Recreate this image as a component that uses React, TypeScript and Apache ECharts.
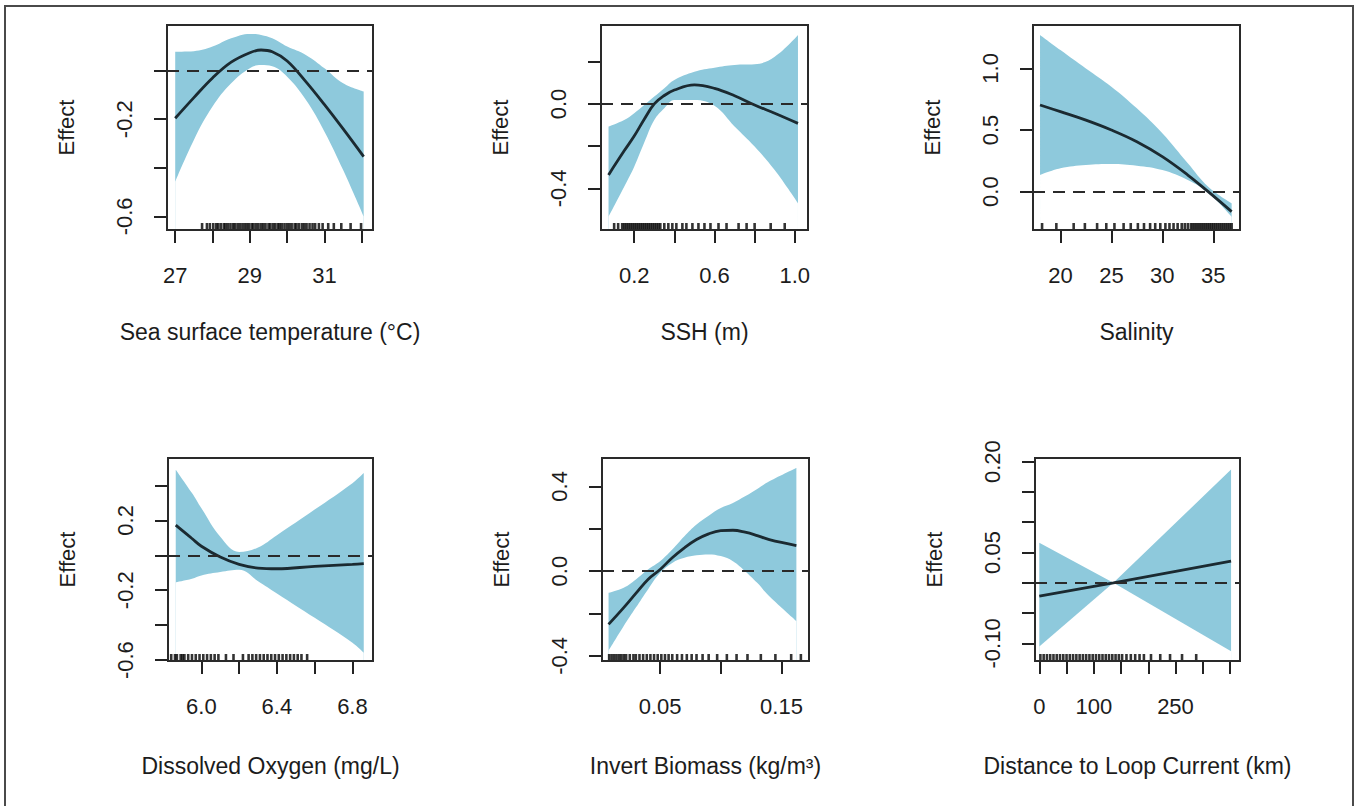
import React, { useEffect, useRef } from "react";
import * as echarts from "echarts";

// ---------- Panel 1: Sea surface temperature ----------
const sstX = [27.0, 27.5, 28.0, 28.5, 29.0, 29.3, 29.6, 30.0, 30.5, 31.0, 31.5, 32.05];
const sstFit = [-0.196, -0.111, -0.03, 0.035, 0.074, 0.085, 0.078, 0.04, -0.045, -0.14, -0.24, -0.354];
const sstUpper = [0.078, 0.08, 0.099, 0.133, 0.151, 0.147, 0.133, 0.099, 0.065, 0.01, -0.052, -0.086];
const sstLower = [-0.457, -0.285, -0.148, -0.052, 0.01, 0.023, 0.018, -0.025, -0.12, -0.251, -0.409, -0.6];
const sstRug = [27.72, 27.85, 27.93, 28.02, 28.1, 28.15, 28.22, 28.3, 28.35, 28.41, 28.48, 28.55, 28.6, 28.67, 28.73, 28.8, 28.86, 28.92, 28.98, 29.05, 29.1, 29.17, 29.23, 29.3, 29.36, 29.42, 29.5, 29.55, 29.62, 29.68, 29.75, 29.8, 29.86, 29.93, 30.0, 30.06, 30.12, 30.2, 30.25, 30.32, 30.4, 30.46, 30.52, 30.6, 30.68, 30.75, 30.85, 30.95, 31.1, 31.25, 31.45, 31.7, 31.98];
const sstXTicks = [27, 28, 29, 30, 31, 32];
const sstXLabels = [27, 29, 31];
const sstYTicks = [-0.6, -0.4, -0.2, 0.0];
const sstYLabels = [-0.6, -0.2];

// ---------- Panel 2: SSH ----------
const sshX = [0.072, 0.15, 0.2, 0.25, 0.3, 0.35, 0.4, 0.5, 0.6, 0.7, 0.8, 0.9, 1.016];
const sshFit = [-0.336, -0.222, -0.152, -0.072, 0.0, 0.04, 0.066, 0.09, 0.074, 0.039, -0.005, -0.044, -0.092];
const sshUpper = [-0.107, -0.076, -0.044, -0.005, 0.035, 0.075, 0.114, 0.153, 0.172, 0.185, 0.188, 0.224, 0.327];
const sshLower = [-0.534, -0.392, -0.297, -0.183, -0.076, -0.02, 0.019, 0.019, -0.009, -0.107, -0.202, -0.313, -0.47];
const sshRug = [0.1, 0.12, 0.14, 0.15, 0.16, 0.17, 0.18, 0.19, 0.2, 0.21, 0.22, 0.23, 0.24, 0.25, 0.26, 0.27, 0.28, 0.29, 0.3, 0.31, 0.32, 0.33, 0.35, 0.37, 0.39, 0.41, 0.44, 0.46, 0.49, 0.52, 0.55, 0.58, 0.62, 0.66, 0.72, 0.76, 0.8, 0.88, 0.95];
const sshXTicks = [0.2, 0.4, 0.6, 0.8, 1.0];
const sshXLabels = [0.2, 0.6, 1.0];
const sshYTicks = [-0.4, -0.2, 0.0, 0.2];
const sshYLabels = [-0.4, 0.0];

// ---------- Panel 3: Salinity ----------
const salX = [18, 20, 22.5, 25, 27.5, 30, 32.5, 34.5, 36.8];
const salFit = [0.703, 0.649, 0.58, 0.5, 0.405, 0.284, 0.135, 0.0, -0.162];
const salUpper = [1.271, 1.149, 1.0, 0.852, 0.676, 0.474, 0.23, 0.04, -0.094];
const salLower = [0.135, 0.19, 0.217, 0.225, 0.211, 0.176, 0.095, -0.008, -0.203];
const salRug = [18.2, 19.6, 21.3, 22.4, 23.6, 24.5, 25.3, 26.2, 26.9, 27.6, 28.2, 28.8, 29.3, 29.8, 30.3, 30.7, 31.1, 31.5, 31.9, 32.2, 32.5, 32.8, 33.0, 33.2, 33.4, 33.6, 33.8, 34.0, 34.2, 34.4, 34.6, 34.8, 35.0, 35.2, 35.4, 35.6, 35.8, 36.0, 36.2, 36.4, 36.6, 36.8];
const salXTicks = [20, 25, 30, 35];
const salXLabels = [20, 25, 30, 35];
const salYTicks = [0.0, 0.5, 1.0];
const salYLabels = [0.0, 0.5, 1.0];

// ---------- Panel 4: Dissolved oxygen ----------
const doX = [5.864, 5.95, 6.0, 6.1, 6.2, 6.3, 6.4, 6.6, 6.8, 6.86];
const doFit = [0.173, 0.096, 0.052, -0.01, -0.052, -0.073, -0.077, -0.063, -0.052, -0.048];
const doUpper = [0.49, 0.356, 0.269, 0.106, 0.019, 0.045, 0.115, 0.262, 0.413, 0.471];
const doLower = [-0.154, -0.134, -0.115, -0.096, -0.083, -0.148, -0.218, -0.358, -0.5, -0.557];
const doRug = [5.84, 5.86, 5.87, 5.89, 5.9, 5.91, 5.93, 5.95, 5.97, 5.99, 6.01, 6.03, 6.05, 6.07, 6.09, 6.13, 6.17, 6.22, 6.25, 6.27, 6.29, 6.31, 6.33, 6.35, 6.37, 6.39, 6.41, 6.43, 6.45, 6.47, 6.49, 6.51, 6.53, 6.56];
const doXTicks = [6.0, 6.2, 6.4, 6.6, 6.8];
const doXLabels = [6.0, 6.4, 6.8];
const doYTicks = [-0.6, -0.4, -0.2, 0.0, 0.2, 0.4];
const doYLabels = [-0.6, -0.2, 0.2];

// ---------- Panel 5: Invert biomass ----------
const invX = [0.0075, 0.02, 0.03, 0.04, 0.05, 0.06, 0.07, 0.08, 0.09, 0.1, 0.11, 0.12, 0.13, 0.14, 0.1623];
const invFit = [-0.251, -0.172, -0.105, -0.039, 0.008, 0.063, 0.11, 0.149, 0.176, 0.191, 0.193, 0.184, 0.168, 0.149, 0.121];
const invUpper = [-0.102, -0.078, -0.039, 0.008, 0.047, 0.102, 0.165, 0.22, 0.262, 0.298, 0.322, 0.353, 0.388, 0.424, 0.487];
const invLower = [-0.376, -0.259, -0.172, -0.086, -0.008, 0.039, 0.063, 0.075, 0.079, 0.071, 0.047, 0.0, -0.055, -0.118, -0.235];
const invRug = [0.008, 0.01, 0.012, 0.014, 0.016, 0.018, 0.02, 0.022, 0.025, 0.028, 0.03, 0.033, 0.036, 0.039, 0.042, 0.045, 0.048, 0.051, 0.054, 0.057, 0.06, 0.064, 0.068, 0.072, 0.076, 0.08, 0.085, 0.09, 0.097, 0.105, 0.113, 0.122, 0.133, 0.145, 0.158, 0.166];
const invXTicks = [0.05, 0.1, 0.15];
const invXLabels = [0.05, 0.15];
const invYTicks = [-0.4, -0.2, 0.0, 0.2, 0.4];
const invYLabels = [-0.4, 0.0, 0.4];

// ---------- Panel 6: Distance to Loop Current ----------
const lcX = [0, 136, 352];
const lcFit = [-0.022, 0.0, 0.036];
const lcUpper = [0.066, 0.0, 0.187];
const lcLower = [-0.105, 0.0, -0.113];
const lcRug = [2, 8, 14, 20, 26, 32, 38, 44, 50, 56, 62, 68, 74, 80, 86, 92, 98, 104, 110, 116, 122, 128, 134, 140, 146, 152, 160, 168, 176, 184, 192, 205, 222, 240, 262, 288];
const lcXTicks = [0, 50, 100, 150, 200, 250, 300, 350];
const lcXLabels = [0, 100, 250];
const lcYTicks = [-0.1, -0.05, 0.0, 0.05, 0.1, 0.15, 0.2];
const lcYLabels = [-0.1, 0.05, 0.2];

const titles = [
  "Sea surface temperature (°C)",
  "SSH (m)",
  "Salinity",
  "Dissolved Oxygen (mg/L)",
  "Invert Biomass (kg/m³)",
  "Distance to Loop Current (km)",
];

const panels = [
  { x: sstX, fit: sstFit, upper: sstUpper, lower: sstLower, rug: sstRug, xTicks: sstXTicks, xLabels: sstXLabels, yTicks: sstYTicks, yLabels: sstYLabels, xMin: 26.78, xMax: 32.3, yMin: -0.656, yMax: 0.188, xDec: 0, yDec: 1, smooth: 0.4 },
  { x: sshX, fit: sshFit, upper: sshUpper, lower: sshLower, rug: sshRug, xTicks: sshXTicks, xLabels: sshXLabels, yTicks: sshYTicks, yLabels: sshYLabels, xMin: 0.0345, xMax: 1.066, yMin: -0.597, yMax: 0.374, xDec: 1, yDec: 1, smooth: 0.4 },
  { x: salX, fit: salFit, upper: salUpper, lower: salLower, rug: salRug, xTicks: salXTicks, xLabels: salXLabels, yTicks: salYTicks, yLabels: salYLabels, xMin: 17.31, xMax: 37.62, yMin: -0.311, yMax: 1.352, xDec: 0, yDec: 1, smooth: 0.4 },
  { x: doX, fit: doFit, upper: doUpper, lower: doLower, rug: doRug, xTicks: doXTicks, xLabels: doXLabels, yTicks: doYTicks, yLabels: doYLabels, xMin: 5.823, xMax: 6.909, yMin: -0.605, yMax: 0.557, xDec: 1, yDec: 1, smooth: 0.4 },
  { x: invX, fit: invFit, upper: invUpper, lower: invLower, rug: invRug, xTicks: invXTicks, xLabels: invXLabels, yTicks: invYTicks, yLabels: invYLabels, xMin: 0.0021, xMax: 0.1727, yMin: -0.424, yMax: 0.534, xDec: 2, yDec: 1, smooth: 0.4 },
  { x: lcX, fit: lcFit, upper: lcUpper, lower: lcLower, rug: lcRug, xTicks: lcXTicks, xLabels: lcXLabels, yTicks: lcYTicks, yLabels: lcYLabels, xMin: -7.9, xMax: 368.4, yMin: -0.129, yMax: 0.206, xDec: 0, yDec: 2, smooth: false },
];

// layout (pixels)
const layout = [
  { left: 167, top: 25, width: 206, height: 205, xGap: 90 },
  { left: 601, top: 25, width: 207, height: 205, xGap: 90 },
  { left: 1033, top: 25, width: 207, height: 205, xGap: 90 },
  { left: 168, top: 458, width: 205, height: 203, xGap: 93 },
  { left: 602, top: 458, width: 207, height: 203, xGap: 93 },
  { left: 1035, top: 458, width: 205, height: 203, xGap: 93 },
];

const FONT = '"Liberation Sans", Arial, Helvetica, sans-serif';
const TEXT = "#1c1c1c";
const BAND = "#8ec9dc";
const LINE = "#1b2a31";

function buildOption() {
  const grid: any[] = [];
  const xAxis: any[] = [];
  const yAxis: any[] = [];
  const series: any[] = [];
  panels.forEach((p, i) => {
    const L = layout[i];
    grid.push({
      left: L.left, top: L.top, width: L.width, height: L.height,
      show: true, borderColor: "#2a2a2a", borderWidth: 2, z: 6,
      backgroundColor: "transparent", containLabel: false, outerBoundsMode: "none",
    });
    xAxis.push({
      type: "value", gridIndex: i, min: p.xMin, max: p.xMax,
      name: titles[i], nameLocation: "middle", nameGap: L.xGap,
      nameTextStyle: { fontFamily: FONT, fontSize: 23, color: TEXT },
      axisLine: { show: false, onZero: false },
      axisTick: { show: true, length: 13, lineStyle: { color: "#222", width: 2 }, customValues: p.xTicks },
      axisLabel: {
        show: true, customValues: p.xLabels, margin: 34,
        formatter: (v: number) => Number(v).toFixed(p.xDec),
        fontFamily: FONT, fontSize: 22, color: TEXT, showMinLabel: true, showMaxLabel: true, hideOverlap: false,
      },
      splitLine: { show: false },
    });
    yAxis.push({
      type: "value", gridIndex: i, min: p.yMin, max: p.yMax,
      name: "Effect", nameLocation: "middle", nameGap: 90,
      nameTextStyle: { fontFamily: FONT, fontSize: 22, color: TEXT },
      axisLine: { show: false, onZero: false },
      axisTick: { show: true, length: 13, lineStyle: { color: "#222", width: 2 }, customValues: p.yTicks },
      axisLabel: {
        show: true, customValues: p.yLabels, margin: 32, rotate: 90,
        formatter: (v: number) => Number(v).toFixed(p.yDec),
        fontFamily: FONT, fontSize: 22, color: TEXT, hideOverlap: false,
      },
      splitLine: { show: false },
    });
    const upperData = p.x.map((x, k) => [x, p.upper[k]]);
    const lowerData = p.x.map((x, k) => [x, p.lower[k]]);
    const fitData = p.x.map((x, k) => [x, p.fit[k]]);
    // confidence band: fill under the upper bound, then mask under the lower bound
    series.push({
      type: "line", xAxisIndex: i, yAxisIndex: i,
      data: upperData, symbol: "none", smooth: p.smooth,
      lineStyle: { width: 0, opacity: 0 },
      areaStyle: { color: BAND, opacity: 1, origin: "start" }, silent: true, z: 1,
    });
    series.push({
      type: "line", xAxisIndex: i, yAxisIndex: i,
      data: lowerData, symbol: "none", smooth: p.smooth,
      lineStyle: { width: 0, opacity: 0 },
      areaStyle: { color: "#ffffff", opacity: 1, origin: "start" }, silent: true, z: 2,
    });
    series.push({
      type: "line", xAxisIndex: i, yAxisIndex: i,
      data: fitData, symbol: "none", smooth: p.smooth,
      lineStyle: { color: LINE, width: 2.8 }, silent: true, z: 4,
      markLine: {
        silent: true, symbol: ["none", "none"], label: { show: false },
        lineStyle: { color: "#2a2a2a", width: 2.2, type: [12, 8] },
        emphasis: { disabled: true },
        data: [{ yAxis: 0 }],
      },
    });
    series.push({
      type: "scatter", xAxisIndex: i, yAxisIndex: i,
      data: p.rug.map((r) => [r, p.yMin]),
      symbol: "rect", symbolSize: [2.6, 6], symbolOffset: [0, -4],
      itemStyle: { color: "#000" }, silent: true, clip: false, z: 5,
    });
  });
  return {
    animation: false,
    backgroundColor: "#fff",
    textStyle: { fontFamily: FONT },
    grid, xAxis, yAxis, series,
    graphic: [
      {
        type: "rect", silent: true,
        shape: { x: 5, y: 6, width: 1348, height: 830 },
        style: { fill: "none", stroke: "#4a4a4a", lineWidth: 2 },
      },
    ],
  };
}

export default function App() {
  const ref = useRef<HTMLDivElement>(null);
  useEffect(() => {
    const chart = echarts.init(ref.current as HTMLDivElement, null, { renderer: "svg" });
    chart.setOption(buildOption() as any);
    return () => chart.dispose();
  }, []);
  return (
    <div
      ref={ref}
      style={{ position: "fixed", left: 0, top: 0, width: 1359, height: 806, background: "#fff" }}
    />
  );
}
